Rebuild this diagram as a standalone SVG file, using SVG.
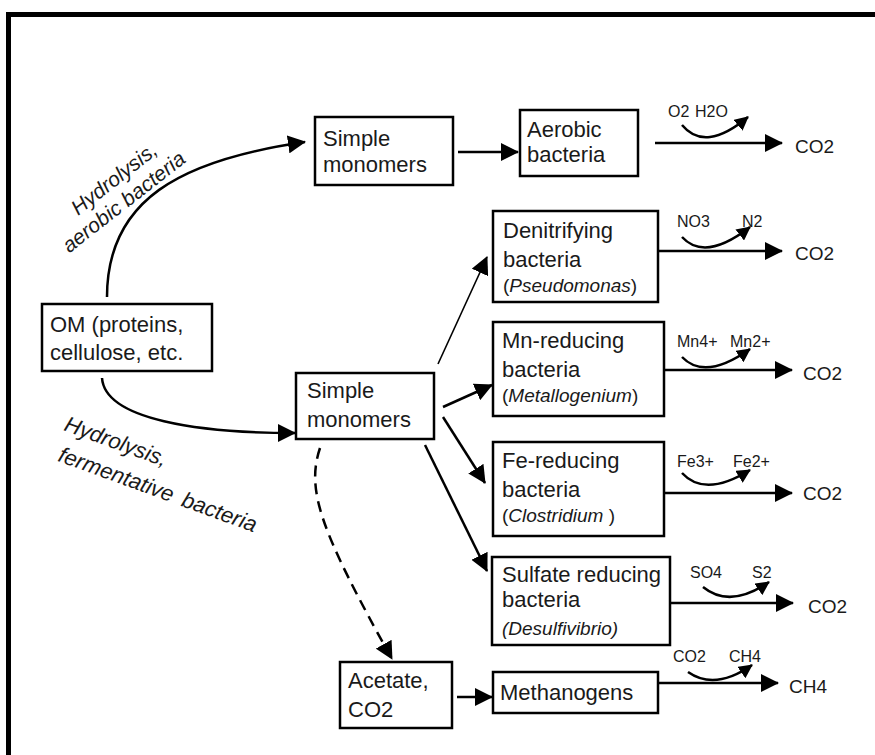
<svg xmlns="http://www.w3.org/2000/svg" width="875" height="755" viewBox="0 0 875 755">
<defs>
<marker id="ah" markerUnits="userSpaceOnUse" markerWidth="18" markerHeight="18" viewBox="0 0 18 18" refX="17" refY="9" orient="auto"><path d="M0,0 L18,9 L0,18 z" fill="#000"/></marker>
<marker id="as" markerUnits="userSpaceOnUse" markerWidth="14" markerHeight="14" viewBox="0 0 14 14" refX="13" refY="7" orient="auto"><path d="M0,0 L14,7 L0,14 z" fill="#000"/></marker>
</defs>
<style>
.box{fill:#fff;stroke:#000;stroke-width:2.5}
.t{font-family:"Liberation Sans",Arial,sans-serif;font-size:22px;fill:#1a1a1a}
.g{font-size:19px}
.it{font-style:italic}
.lb{font-size:16px}
.out{font-size:19px}
.rl{font-family:"Liberation Sans",Arial,sans-serif;font-style:italic;fill:#1a1a1a}
.c{fill:none;stroke:#000;stroke-width:2.5}
.ar{marker-end:url(#ah)}
.sa{fill:none;stroke:#000;stroke-width:2.5;marker-end:url(#as)}
</style>
<rect width="875" height="755" fill="#fff"/>
<path d="M8.5,755 V14.5 H875" fill="none" stroke="#000" stroke-width="5"/>

<g id="connectors">
<path class="c ar" d="M107,297 C107,200 180,160 305,142"/>
<path class="c ar" d="M102,378 C105,420 200,433 295,433"/>
<path class="c ar" d="M458,152 L518,152"/>
<path class="c ar" d="M655,143 L782,143"/>
<path class="c ar" d="M658,251 L782,251"/>
<path class="c ar" d="M664,370 L792,370"/>
<path class="c ar" d="M664,493 L792,493"/>
<path class="c ar" d="M667,603 L793,603"/>
<path class="c ar" d="M658,683 L778,683"/>
<path class="c ar" d="M457,697 L492,697"/>
<path class="c ar" style="stroke-width:1.6" d="M438,364 L487,257"/>
<path class="c ar" d="M443,407 L492,385"/>
<path class="c ar" d="M443,417 L485,483"/>
<path class="c ar" d="M425,445 L487,571"/>
<path class="c ar" stroke-dasharray="11,7" d="M320,448 C306,490 320,530 392,659"/>
<path class="sa" d="M682,125 Q705,153 748,117"/>
<path class="sa" d="M682,237 Q705,262 750,227"/>
<path class="sa" d="M682,357 Q705,381 750,349"/>
<path class="sa" d="M682,473 Q705,498 750,470"/>
<path class="sa" d="M703,587 Q730,609 769,582"/>
<path class="sa" d="M688,672 Q715,691 752,665"/>
</g>

<g id="labels" class="t">
<text class="rl" style="font-size:21px" transform="translate(78,216) rotate(-38)"><tspan x="0" y="0">Hydrolysis,</tspan><tspan x="-30" y="24">aerobic bacteria</tspan></text>
<text class="rl" style="font-size:22px" transform="translate(63,430) rotate(20)"><tspan x="0" y="0">Hydrolysis,</tspan><tspan x="5" y="31">fermentative</tspan><tspan dx="10">bacteria</tspan></text>
<text class="lb" x="668" y="117">O2</text><text class="lb" x="695" y="117">H2O</text>
<text class="lb" x="677" y="227">NO3</text><text class="lb" x="742" y="227">N2</text>
<text class="lb" x="677" y="347">Mn4+</text><text class="lb" x="730" y="347">Mn2+</text>
<text class="lb" x="677" y="467">Fe3+</text><text class="lb" x="733" y="467">Fe2+</text>
<text class="lb" x="690" y="578">SO4</text><text class="lb" x="752" y="578">S2</text>
<text class="lb" x="673" y="662">CO2</text><text class="lb" x="729" y="662">CH4</text>
<text class="out" x="795" y="153">CO2</text>
<text class="out" x="795" y="260">CO2</text>
<text class="out" x="803" y="380">CO2</text>
<text class="out" x="803" y="500">CO2</text>
<text class="out" x="808" y="613">CO2</text>
<text class="out" x="789" y="693">CH4</text>
</g>

<g id="om" class="t"><rect class="box" x="42" y="304" width="170" height="67"/><text x="50" y="332">OM (proteins,</text><text x="50" y="360">cellulose, etc.</text></g>
<g id="monomers-top" class="t"><rect class="box" x="315" y="117" width="138" height="68"/><text x="323" y="146">Simple</text><text x="323" y="172">monomers</text></g>
<g id="monomers-low" class="t"><rect class="box" x="296" y="373" width="138" height="66"/><text x="307" y="398">Simple</text><text x="307" y="427">monomers</text></g>
<g id="aerobic" class="t"><rect class="box" x="520" y="110" width="118" height="66"/><text x="527" y="137">Aerobic</text><text x="527" y="162">bacteria</text></g>
<g id="denitrifying" class="t"><rect class="box" x="493" y="211" width="165" height="91"/><text x="503" y="238">Denitrifying</text><text x="503" y="267">bacteria</text><text class="g" x="503" y="292">(<tspan class="it">Pseudomonas</tspan>)</text></g>
<g id="mn" class="t"><rect class="box" x="493" y="322" width="171" height="94"/><text x="502" y="348">Mn-reducing</text><text x="502" y="377">bacteria</text><text class="g" x="502" y="402">(<tspan class="it">Metallogenium</tspan>)</text></g>
<g id="fe" class="t"><rect class="box" x="493" y="442" width="171" height="94"/><text x="502" y="468">Fe-reducing</text><text x="502" y="497">bacteria</text><text class="g" x="502" y="522">(<tspan class="it">Clostridium</tspan> )</text></g>
<g id="sulfate" class="t"><rect class="box" x="492" y="557" width="178" height="88"/><text x="502" y="582">Sulfate reducing</text><text x="502" y="607">bacteria</text><text class="g it" x="502" y="635">(Desulfivibrio)</text></g>
<g id="acetate" class="t"><rect class="box" x="340" y="662" width="112" height="66"/><text x="348" y="688">Acetate,</text><text x="348" y="717">CO2</text></g>
<g id="methanogens" class="t"><rect class="box" x="493" y="672" width="165" height="41"/><text x="500" y="700">Methanogens</text></g>
</svg>
